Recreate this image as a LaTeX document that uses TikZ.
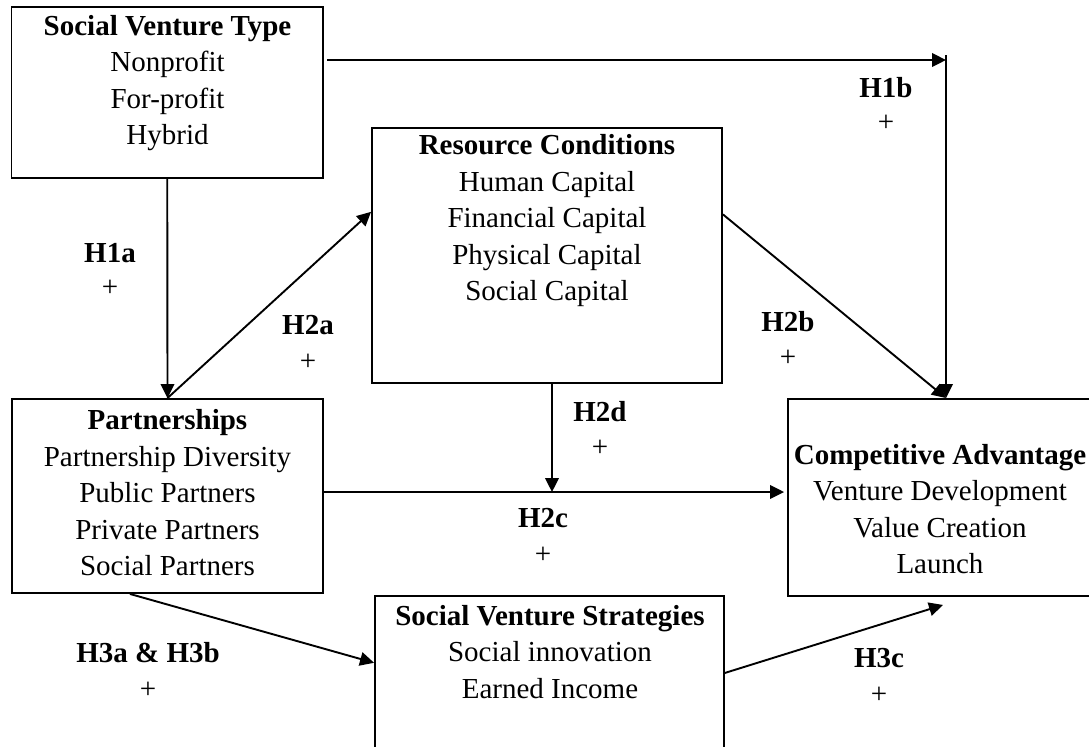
\documentclass[tikz,border=0pt]{standalone}
\usepackage{fontspec}
\setmainfont{Liberation Serif}
\usetikzlibrary{arrows.meta,calc,fit}
\begin{document}
\begin{tikzpicture}[x=0.5pt,y=-0.5pt,
  frame/.style={draw, line width=0.95pt, inner sep=0pt},
  body/.style={align=center, inner sep=0pt, font=\fontsize{14.5pt}{18.25pt}\selectfont},
  hyp/.style={inner sep=0pt, font=\fontsize{14.5pt}{18.25pt}\selectfont\bfseries},
  sign/.style={inner sep=0pt, font=\fontsize{14.5pt}{18.25pt}\selectfont},
  link/.style={line width=0.95pt, -{Triangle[length=7pt,width=6.8pt]}}]
\clip (0,0) rectangle (1089,746);
\fill[white] (0,0) rectangle (1089,746);

% construct boxes
\node[frame, fit={(11.5,7) (323,178)}] (svt) {};
\node[frame, fit={(372,128) (722,383)}] (rc) {};
\node[frame, fit={(12,399) (323,593)}] (part) {};
\node[frame, fit={(788,399) (1104,596)}] (ca) {};
\node[frame, fit={(375,596) (724,766)}] (svs) {};

% box contents
\node[body] (svtText) at (167.5,83) {\textbf{Social Venture Type}\\Nonprofit\\For-profit\\Hybrid};
\node[body] (rcText) at (547,221) {\textbf{Resource Conditions}\\Human Capital\\Financial Capital\\Physical Capital\\Social Capital};
\node[body] (partText) at (167.5,493) {\textbf{Partnerships}\\Partnership Diversity\\Public Partners\\Private Partners\\Social Partners};
\node[body] (caText) at (940,509) {\textbf{Competitive Advantage}\\Venture Development\\Value Creation\\Launch};
\node[body] (svsText) at (550,652) {\textbf{Social Venture Strategies}\\Social innovation\\Earned Income};

% hypothesis labels
\node[hyp] (h1a) at (110,253) {H1a};   \node[sign] (h1aSign) at (110,288) {+};
\node[hyp] (h2a) at (308,325) {H2a};   \node[sign] (h2aSign) at (308,362) {+};
\node[hyp] (h1b) at (886,88) {H1b};    \node[sign] (h1bSign) at (886,123) {+};
\node[hyp] (h2b) at (788,322) {H2b};   \node[sign] (h2bSign) at (788,358) {+};
\node[hyp] (h2d) at (600,412) {H2d};   \node[sign] (h2dSign) at (600,448) {+};
\node[hyp] (h2c) at (543,518) {H2c};   \node[sign] (h2cSign) at (543,555) {+};
\node[hyp] (h3ab) at (148,653) {H3a \& H3b}; \node[sign] (h3abSign) at (148,690) {+};
\node[hyp] (h3c) at (879,658) {H3c};   \node[sign] (h3cSign) at (879,695) {+};

% helper points on box sides
\coordinate (svtOut) at (327,60);
\coordinate (turn) at (946,60);
\coordinate (turnTop) at (946,55);
\coordinate (rcIn) at ($(rc.north west)!0.33!(rc.south west)$);
\coordinate (rcOut) at ($(rc.north east)!0.34!(rc.south east)$);
\coordinate (rcDown) at ($(rc.south)+(5,0)$);
\coordinate (partOut) at ($(part.east)+(0,-4)$);
\coordinate (partLow) at ($(part.south west)!0.38!(part.south east)$);
\coordinate (svsIn) at ($(svs.north west)!0.394!(svs.south west)$);
\coordinate (svsOut) at ($(svs.north east)!0.453!(svs.south east)$);
\coordinate (caLow) at ($(ca.south)+(-3,8)$);

% connectors
\draw[link] (svt.south) -- (part.north);
\draw[link] (part.north) -- (rcIn);
\draw[link] (svtOut) -- (turn);
\draw[link] (turnTop) -- (ca.north);
\draw[link] (rcOut) -- (ca.north);
\draw[link] (rcDown) -- (rcDown |- partOut);
\draw[link, shorten >=1.5pt] (partOut) -- (partOut -| ca.west);
\draw[link] (partLow) -- (svsIn);
\draw[link] (svsOut) -- (caLow);
\end{tikzpicture}
\end{document}
